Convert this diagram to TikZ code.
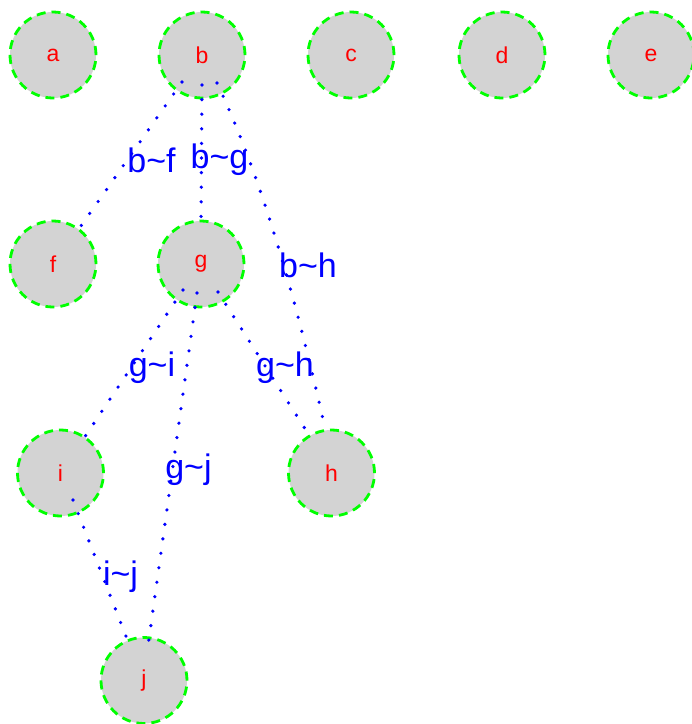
\documentclass[tikz,border=0pt]{standalone}
\usepackage{fontspec}
\setmainfont{Liberation Sans}
\usetikzlibrary{calc}
\definecolor{vgray}{RGB}{211,211,211}
\definecolor{vgreen}{RGB}{0,255,0}
\definecolor{vred}{RGB}{255,0,0}
\definecolor{vblue}{RGB}{0,0,255}
\begin{document}
\begin{tikzpicture}[x=1pt,y=-1pt,
  vtx/.style={circle,minimum size=86pt,inner sep=0pt,fill=vgray,draw=vgreen,
    line width=2.8pt,dash pattern=on 9pt off 6pt,text=vred,
    font=\fontsize{23}{26}\selectfont},
  edg/.style={draw=vblue,line width=3.6pt,line cap=round,dash pattern=on 0pt off 14.6pt},
  elab/.style={text=vblue,anchor=base,inner sep=0pt,font=\fontsize{34}{40}\selectfont}]
\useasboundingbox (0,0) rectangle (692,724);
\node[vtx] (a) at (53,55) {a};
\node[vtx] (b) at (202,55) {b};
\node[vtx] (c) at (351,55) {c};
\node[vtx] (d) at (502,55) {d};
\node[vtx] (e) at (651,55) {e};
\node[vtx] (f) at (53,264) {f};
\node[vtx] (g) at (201,264) {g};
\node[vtx] (i) at (60.5,473) {i};
\node[vtx] (h) at (331.5,473) {h};
\node[vtx] (j) at (144,680.5) {j};
% edges
\path[edg] ($(b)+(-20,27)$) -- ($(f)+(23,-31)$);
\path[edg] ($(b)+(0,30)$) -- ($(g)+(0,-41)$);
\path[edg] ($(b)+(15,28)$) .. controls ($(b)+(54,110)$) and ($(h)+(-39.5,-193)$) .. ($(h)+(-6.5,-45)$);
\path[edg] ($(g)+(-18,26)$) -- ($(i)+(19.5,-29)$);
\path[edg] ($(g)+(-4,29)$) -- ($(j)+(4,-34.5)$);
\path[edg] ($(g)+(17,28)$) -- ($(h)+(-22.5,-38)$);
\path[edg] ($(i)+(12.5,27)$) -- ($(j)+(-15,-36.5)$);
% labels
\node[elab] (lbf) at (151.5,172) {b\char`\~f};
\node[elab] (lbg) at (219.5,168) {b\char`\~g};
\node[elab] (lbh) at (308,277) {b\char`\~h};
\node[elab] (lgi) at (152,376) {g\char`\~i};
\node[elab] (lgh) at (285,376) {g\char`\~h};
\node[elab] (lgj) at (188.5,478) {g\char`\~j};
\node[elab] (lij) at (120.5,585) {i\char`\~j};
\end{tikzpicture}
\end{document}
